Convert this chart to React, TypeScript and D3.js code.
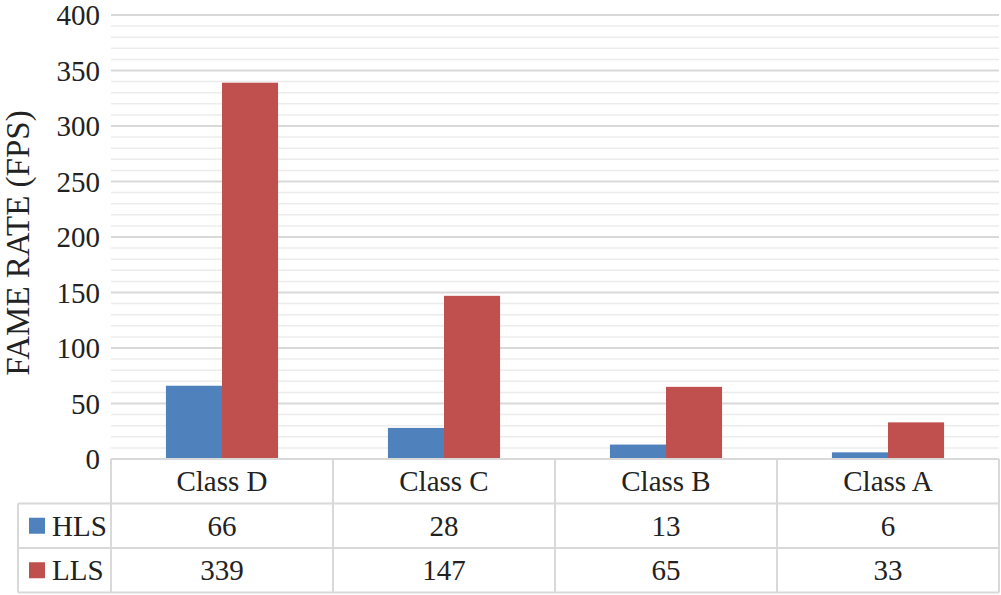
import React from "react";
import * as d3 from "d3";

const categories = ["Class D", "Class C", "Class B", "Class A"];
const seriesNames = ["HLS", "LLS"];
const hlsValues = [66, 28, 13, 6];
const llsValues = [339, 147, 65, 33];
const yTicks = [0, 50, 100, 150, 200, 250, 300, 350, 400];
const colors = ["#4F81BD", "#C0504D"];

const W = 1001;
const H = 595;
const left = 111;
const right = 999;
const top = 15;
const bottom = 459;
const rowH = 44.5;
const tableLeft = 18;
const font = "Liberation Serif, Tinos, Times New Roman, Times, DejaVu Serif, serif";

export default function App() {
  const y = d3.scaleLinear().domain([0, 400]).range([bottom, top]);
  const x = d3.scaleBand<string>().domain(categories).range([left, right]).paddingInner(0).paddingOuter(0);
  const inner = d3.scaleBand<string>().domain(seriesNames).range([0, x.bandwidth()]).paddingInner(0).paddingOuter(0.98);
  const minor = d3.range(0, 401, 10).filter((v) => v % 50 !== 0);
  const series = [hlsValues, llsValues];
  const grid = "#d9d9d9";
  const fs = 29;
  const txt = { fontFamily: font };

  return (
    <svg width={W} height={H} style={{ position: "absolute", left: 0, top: 0, background: "#fff", fontFamily: font }}>
      {minor.map((v) => (
        <line key={"m" + v} x1={left} x2={right} y1={y(v)} y2={y(v)} stroke="#ececec" strokeWidth={1.5} />
      ))}
      {yTicks.map((v) => (
        <line key={"g" + v} x1={left} x2={right} y1={y(v)} y2={y(v)} stroke={grid} strokeWidth={1.8} />
      ))}
      {series.map((vals, si) =>
        vals.map((v, ci) => (
          <rect
            key={si + "-" + ci}
            x={(x(categories[ci]) as number) + (inner(seriesNames[si]) as number)}
            y={y(v)}
            width={inner.bandwidth()}
            height={bottom - y(v)}
            fill={colors[si]}
          />
        ))
      )}
      {yTicks.map((v) => (
        <text key={"t" + v} style={txt} x={100} y={y(v)} dy="0.35em" textAnchor="end" fontSize={fs} fill="#222">
          {v}
        </text>
      ))}
      <text
        style={txt}
        transform={`translate(29, ${243}) rotate(-90)`}
        textAnchor="middle"
        fontSize={33}
        fill="#222"
      >
        FAME RATE (FPS)
      </text>
      {/* table lines */}
      <line x1={left} x2={right} y1={bottom} y2={bottom} stroke={grid} strokeWidth={2} />
      {[1, 2, 3].map((r) => (
        <line key={"h" + r} x1={tableLeft} x2={right} y1={bottom + r * rowH} y2={bottom + r * rowH} stroke={grid} strokeWidth={2} />
      ))}
      <line x1={tableLeft} x2={tableLeft} y1={bottom + rowH} y2={bottom + 3 * rowH} stroke={grid} strokeWidth={2} />
      {categories.map((c) => (
        <line key={"v" + c} x1={x(c) as number} x2={x(c) as number} y1={bottom} y2={bottom + 3 * rowH} stroke={grid} strokeWidth={2} />
      ))}
      <line x1={right} x2={right} y1={bottom} y2={bottom + 3 * rowH} stroke={grid} strokeWidth={2} />
      {categories.map((c) => (
        <text key={"c" + c} style={txt} x={(x(c) as number) + x.bandwidth() / 2} y={bottom + rowH / 2} dy="0.35em" textAnchor="middle" fontSize={fs} fill="#222">
          {c}
        </text>
      ))}
      {series.map((vals, si) => (
        <g key={"row" + si}>
          <rect x={29} y={bottom + (si + 1) * rowH + rowH / 2 - 8} width={16} height={16} fill={colors[si]} />
          <text style={txt} x={52} y={bottom + (si + 1.5) * rowH} dy="0.35em" fontSize={fs} fill="#222">
            {seriesNames[si]}
          </text>
          {vals.map((v, ci) => (
            <text
              key={ci}
              style={txt}
              x={(x(categories[ci]) as number) + x.bandwidth() / 2}
              y={bottom + (si + 1.5) * rowH}
              dy="0.35em"
              textAnchor="middle"
              fontSize={fs}
              fill="#222"
            >
              {v}
            </text>
          ))}
        </g>
      ))}
    </svg>
  );
}
